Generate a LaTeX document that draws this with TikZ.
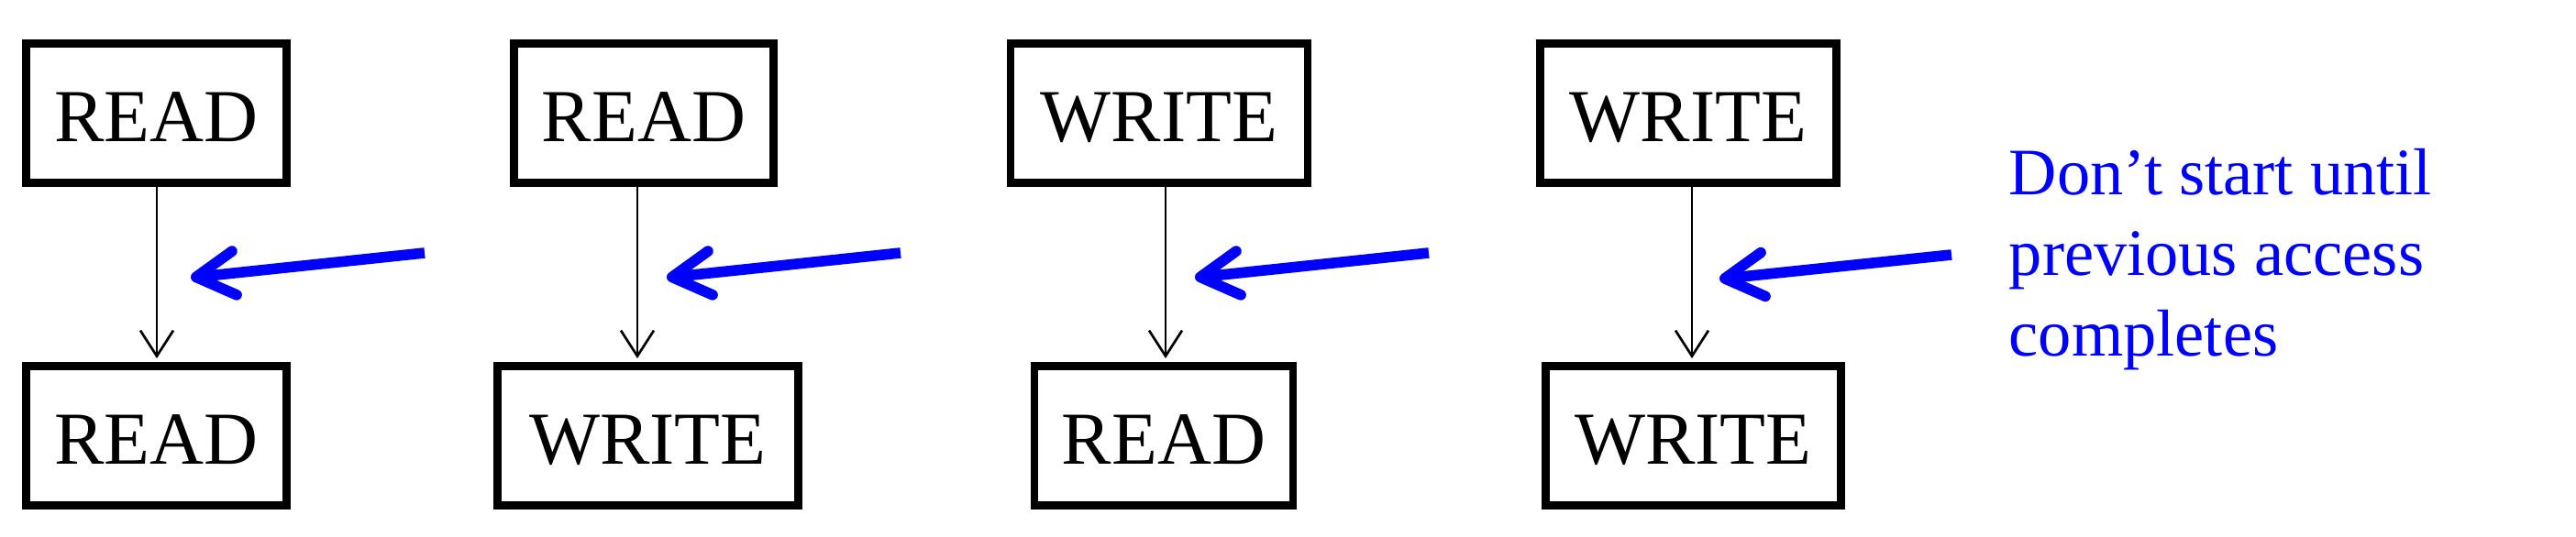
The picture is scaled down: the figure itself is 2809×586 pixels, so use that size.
\documentclass[tikz,border=0pt]{standalone}
\usepackage{fontspec}
\setmainfont{Liberation Serif}
\usetikzlibrary{arrows.meta}
\begin{document}
\begin{tikzpicture}[x=0.25pt,y=-0.25pt,
  box/.style={draw=black, line width=2.1pt, rectangle, minimum height=38pt,
    inner sep=0pt, text height=15.75pt, text depth=0pt,
    font=\fontsize{20.4pt}{24pt}\selectfont},
  conn/.style={draw=black, line width=0.67pt,
    -{Straight Barb[length=7pt,width=9pt]}, shorten >=1.05pt},
  cue/.style={draw=blue, line width=2.9pt,
    -{Straight Barb[length=10.5pt,width=12pt,round]}},
  note/.style={text=blue, align=left, anchor=base west, inner sep=0pt,
    font=\fontsize{18.1pt}{22pt}\selectfont}]
\useasboundingbox (0,0) rectangle (2809,586);

% boxes
\node[box, minimum width=71pt]    (a1) at (170.5,123.5) {READ};
\node[box, minimum width=71pt]    (a2) at (170.5,475.5) {READ};
\node[box, minimum width=70.75pt] (b1) at (702,123.5)   {READ};
\node[box, minimum width=82pt]    (b2) at (706.5,475.5) {WRITE};
\node[box, minimum width=81pt]    (c1) at (1264,123.5)  {WRITE};
\node[box, minimum width=70.4pt]  (c2) at (1269,475.5)  {READ};
\node[box, minimum width=80.75pt] (d1) at (1841,123.5)  {WRITE};
\node[box, minimum width=80.5pt]  (d2) at (1846.5,475.5){WRITE};

% x positions of the ordering lines
\coordinate (ax) at (171,0);
\coordinate (bx) at (695,0);
\coordinate (cx) at (1271,0);
\coordinate (dx) at (1845,0);

\draw[conn] (a1.south -| ax) -- (a2.north -| ax);
\draw[conn] (b1.south -| bx) -- (b2.north -| bx);
\draw[conn] (c1.south -| cx) -- (c2.north -| cx);
\draw[conn] (d1.south -| dx) -- (d2.north -| dx);

% blue pointers
\coordinate (pa) at (208,303);   \coordinate (ta) at (463,276);
\coordinate (pb) at (727,303);   \coordinate (tb) at (982,276);
\coordinate (pc) at (1303,303);  \coordinate (tc) at (1558,276);
\coordinate (pd) at (1875,304.5);\coordinate (td) at (2128,278);
\draw[cue] (ta) -- (pa);
\draw[cue] (tb) -- (pb);
\draw[cue] (tc) -- (pc);
\draw[cue] (td) -- (pd);

\node[note] (n) at (2190,389) {Don’t start until\\previous access\\completes};
\end{tikzpicture}
\end{document}
